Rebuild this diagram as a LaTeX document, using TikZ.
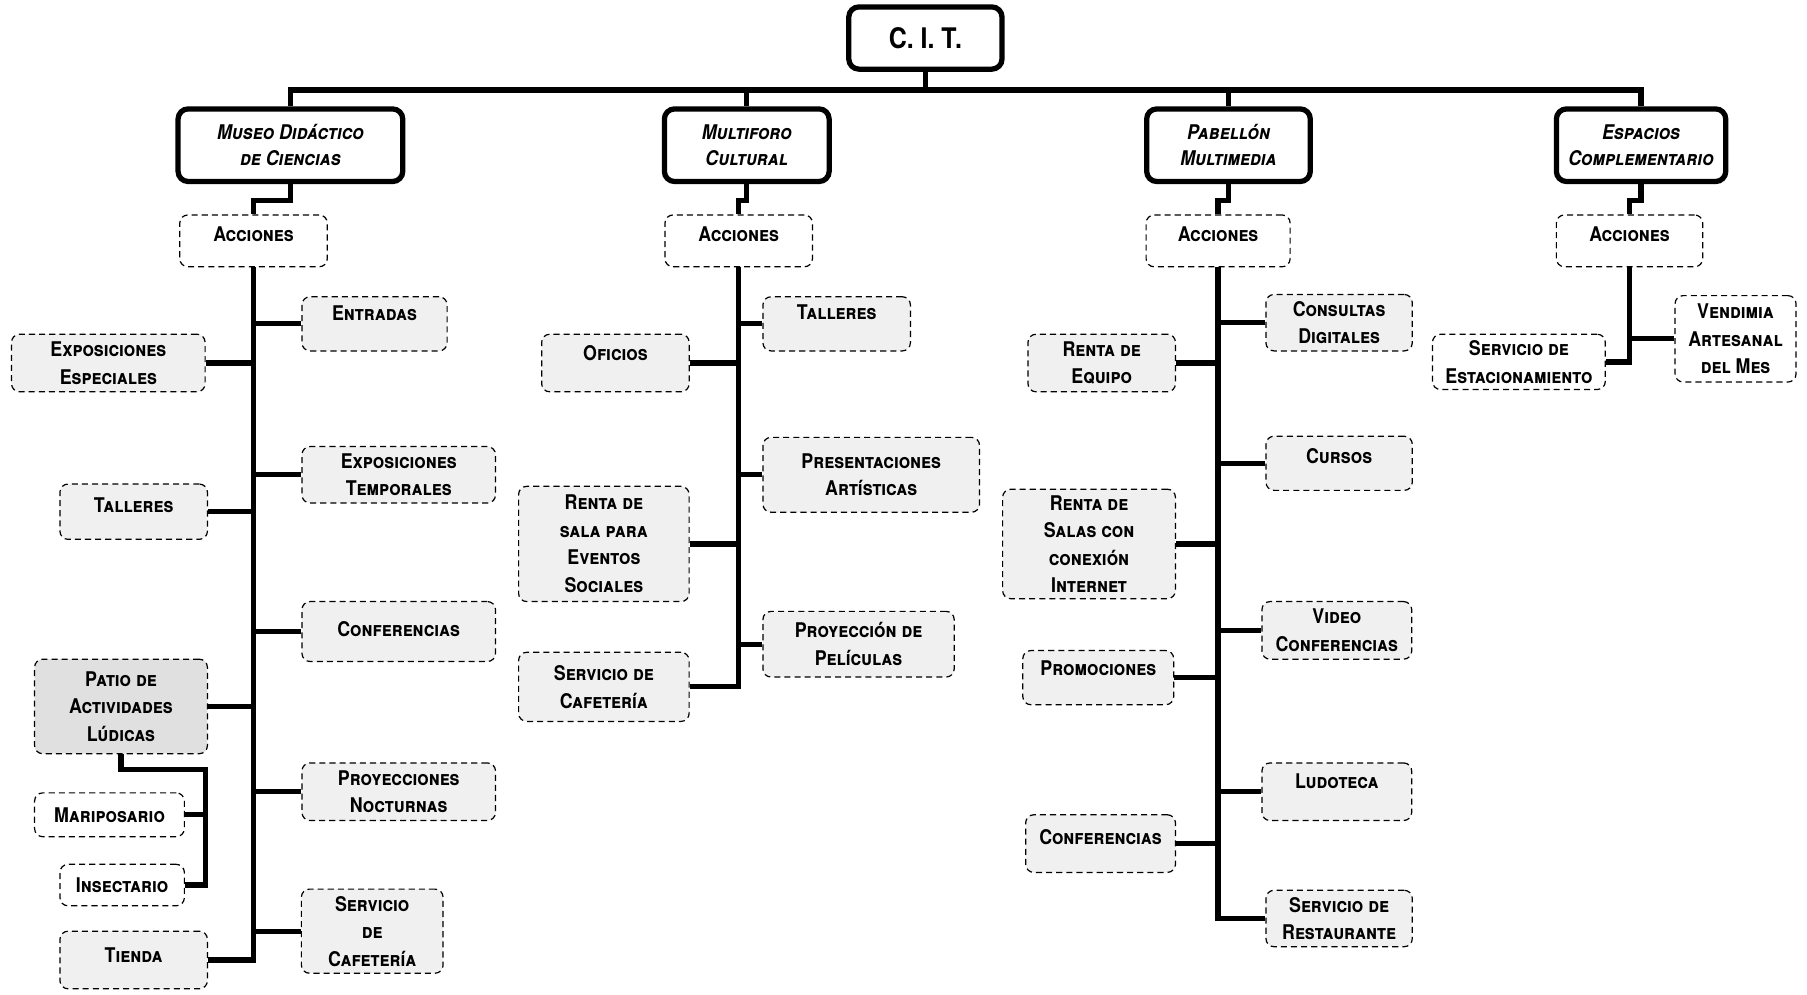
\documentclass[tikz,border=0pt]{standalone}
\usepackage{fontspec}
\setmainfont{TeX Gyre Heros}[FakeStretch=0.88]
\usetikzlibrary{positioning,calc}

\newcommand\boxfont{\fontsize{10}{13.6}\selectfont\bfseries\scshape}
\newcommand\headfont{\fontsize{10}{13}\selectfont\bfseries\itshape\scshape}
\newcommand\citfont{\fontsize{14}{16}\selectfont\bfseries}

\tikzset{
  wh/.style 2 args={minimum width=#1cm,minimum height=#2cm},
  up/.style={text depth=#1cm},
  head/.style={draw,line width=2.6pt,rounded corners=5pt,align=center,
    inner sep=1pt,font=\headfont},
  accbox/.style={draw,densely dashed,line width=0.6pt,rounded corners=4pt,
    inner sep=1pt,font=\boxfont,wh={2.56}{0.9},up=0.24},
  leaf/.style={draw,densely dashed,line width=0.6pt,rounded corners=4pt,
    align=center,inner sep=1pt,fill=black!6,font=\boxfont},
  plain/.style={leaf,fill=none},
  bus/.style={line width=2.6pt},
}

\begin{document}
\begin{tikzpicture}[x=0.02cm,y=-0.02cm]
\useasboundingbox (0,0) rectangle (1568,863);

% nivel superior
\node[head,font=\citfont,wh={2.66}{1.08}] (cit) at (803,33) {C. I. T.};
\node[head,wh={3.9}{1.26}] (museo) at (252,126) {Museo Didáctico\\de Ciencias};
\node[head,wh={2.86}{1.26}] (multi) at (648,126) {Multiforo\\Cultural};
\node[head,wh={2.84}{1.26}] (pab) at (1066,126) {Pabellón\\Multimedia};
\node[head,wh={2.94}{1.26}] (esp) at (1424,126) {Espacios\\Complementario};

\coordinate (bus) at (803,78);
\draw[bus] (cit.south) -- (bus);
\draw[bus] (museo.north) |- (bus) -| (esp.north);
\foreach \h in {multi,pab}
  \draw[bus] (\h.north) -- (\h.north |- bus);

% acciones
\node[accbox] (acc1) at (220,209) {Acciones};
\node[accbox] (acc2) at (641,209) {Acciones};
\node[accbox,wh={2.5}{0.9}] (acc3) at (1057,209) {Acciones};
\node[accbox,wh={2.54}{0.9}] (acc4) at (1414,209) {Acciones};
\foreach \h/\a in {museo/acc1,multi/acc2,pab/acc3,esp/acc4}
  \draw[bus] (\h.south) -- ++(0,14) -| (\a.north);

% museo didactico
\node[leaf,up=0.36,wh={2.52}{0.94}] (ent) at (325,281) {Entradas};
\node[leaf,wh={3.36}{0.98}] (expt) at (346,412) {Exposiciones\\Temporales};
\node[leaf,up=0.1,wh={3.36}{1.04}] (conf1) at (346,548) {Conferencias};
\node[leaf,wh={3.36}{1.0}] (proy1) at (346,687) {Proyecciones\\Nocturnas};
\node[leaf,wh={2.46}{1.46}] (serv1) at (323,808) {Servicio\\de\\Cafetería};
\node[leaf,wh={3.36}{1.0}] (expe) at (94,315) {Exposiciones\\Especiales};
\node[leaf,up=0.24,wh={2.56}{0.96}] (tall1) at (116,444) {Talleres};
\node[leaf,fill=black!12,wh={3.0}{1.64}] (patio) at (105,613) {Patio de\\Actividades\\Lúdicas};
\node[plain,wh={2.6}{0.76}] (mari) at (95,707) {Mariposario};
\node[plain,wh={2.16}{0.72}] (insec) at (106,768) {Insectario};
\node[leaf,up=0.16,wh={2.56}{1.0}] (tienda) at (116,833) {Tienda};

\draw[bus] (acc1.south) |- (tienda.east);
\foreach \n in {ent,expt,conf1,proy1,serv1}
  \draw[bus] (\n.west) -- (\n.west -| acc1.south);
\foreach \n in {expe,tall1,patio}
  \draw[bus] (\n.east) -- (\n.east -| acc1.south);
\coordinate (sub) at (178,668);
\draw[bus] (patio.south) |- (sub) |- (insec.east);
\draw[bus] (mari.east) -- (mari.east -| sub);

% multiforo cultural
\node[leaf,up=0.4,wh={2.56}{0.94}] (tall2) at (726,281) {Talleres};
\node[leaf,wh={3.76}{1.3}] (pres) at (756,412) {Presentaciones\\Artísticas};
\node[leaf,wh={3.32}{1.14}] (pel) at (745,559) {Proyección de\\Películas};
\node[leaf,up=0.36,wh={2.56}{1.0}] (ofi) at (534,315) {Oficios};
\node[leaf,wh={2.96}{2.0}] (renta1) at (524,472) {Renta de\\sala para\\Eventos\\Sociales};
\node[leaf,wh={2.96}{1.2}] (serv2) at (524,596) {Servicio de\\Cafetería};

\draw[bus] (acc2.south) |- (serv2.east);
\foreach \n in {tall2,pres,pel}
  \draw[bus] (\n.west) -- (\n.west -| acc2.south);
\foreach \n in {ofi,renta1}
  \draw[bus] (\n.east) -- (\n.east -| acc2.south);

% pabellon multimedia
\node[leaf,wh={2.54}{0.98}] (cons) at (1162,280) {Consultas\\Digitales};
\node[leaf,up=0.24,wh={2.54}{0.94}] (cursos) at (1162,402) {Cursos};
\node[leaf,wh={2.6}{1.0}] (video) at (1160,547) {Video\\Conferencias};
\node[leaf,up=0.36,wh={2.6}{1.0}] (ludo) at (1160,687) {Ludoteca};
\node[leaf,wh={2.54}{0.98}] (rest) at (1162,797) {Servicio de\\Restaurante};
\node[leaf,wh={2.56}{1.0}] (equipo) at (956,315) {Renta de\\Equipo};
\node[leaf,wh={3.0}{1.9}] (renta2) at (945,472) {Renta de\\Salas con\\conexión\\Internet};
\node[leaf,up=0.32,wh={2.62}{0.94}] (promo) at (953,588) {Promociones};
\node[leaf,up=0.24,wh={2.6}{1.0}] (conf2) at (955,732) {Conferencias};

\draw[bus] (acc3.south) |- (rest.west);
\foreach \n in {cons,cursos,video,ludo}
  \draw[bus] (\n.west) -- (\n.west -| acc3.south);
\foreach \n in {equipo,renta2,promo,conf2}
  \draw[bus] (\n.east) -- (\n.east -| acc3.south);

% espacios complementarios
\node[plain,wh={2.1}{1.5}] (vend) at (1506,294) {Vendimia\\Artesanal\\del Mes};
\node[plain,wh={3.0}{0.96}] (estac) at (1318,314) {Servicio de\\Estacionamiento};
\draw[bus] (acc4.south) |- (estac.east);
\draw[bus] (vend.west) -- (vend.west -| acc4.south);
\end{tikzpicture}
\end{document}
